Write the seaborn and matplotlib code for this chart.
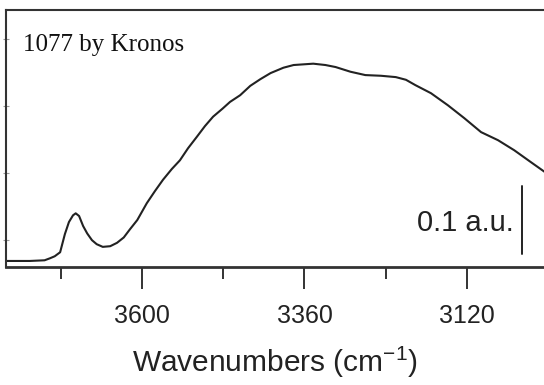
import matplotlib
matplotlib.use("Agg")
import matplotlib.pyplot as plt
import seaborn as sns
import pandas as pd

# ---- data ----
wavenumbers = [3800, 3766, 3744, 3736, 3729, 3721, 3714, 3708, 3702, 3698,
               3693, 3687, 3681, 3674, 3667, 3658, 3647, 3637, 3627, 3618,
               3607, 3593, 3581, 3569, 3556, 3544, 3532, 3519, 3507, 3495,
               3481, 3470, 3455, 3440, 3425, 3410, 3391, 3376, 3347, 3329,
               3314, 3292, 3270, 3247, 3225, 3210, 3196, 3173, 3148, 3124,
               3099, 3074, 3050, 3025, 3004]
absorbance = [-0.031, -0.031, -0.030, -0.027, -0.024, -0.018, 0.009, 0.027, 0.037, 0.040,
              0.036, 0.021, 0.010, 0.000, -0.006, -0.010, -0.009, -0.004, 0.004, 0.016,
              0.030, 0.055, 0.073, 0.090, 0.106, 0.119, 0.137, 0.154, 0.170, 0.184,
              0.196, 0.206, 0.216, 0.230, 0.240, 0.249, 0.257, 0.261, 0.263, 0.261,
              0.258, 0.251, 0.246, 0.245, 0.243, 0.239, 0.231, 0.219, 0.201, 0.182,
              0.161, 0.149, 0.134, 0.116, 0.101]
major_ticks = [3600, 3360, 3120]
minor_ticks = [3720, 3480, 3240]
y_ticks = [0.0, 0.1, 0.2, 0.3]
scale_bar_x = 3038
scale_bar_y = [-0.02, 0.08]
scale_bar_label = "0.1 a.u."
x_label = r"Wavenumbers (cm$^{-1}$)"
watermark = "1077 by Kronos"

df = pd.DataFrame({"wn": wavenumbers, "ab": absorbance})

sns.set_style("ticks")
plt.rcParams["font.family"] = ["Liberation Sans", "DejaVu Sans"]
plt.rcParams["mathtext.default"] = "regular"

fig = plt.figure(figsize=(5.44, 3.85), dpi=100)
ax = fig.add_axes([6 / 544, (385 - 267) / 385, 1 - 6 / 544, (267 - 10) / 385])

sns.lineplot(data=df, x="wn", y="ab", ax=ax, color="#222222", linewidth=1.5,
             solid_joinstyle="round", solid_capstyle="round")

ax.set_xlim(3801, 3006)
ax.set_ylim(-0.040, 0.343)

ax.set_xticks(major_ticks)
ax.set_xticks(minor_ticks, minor=True)
ax.set_yticks(y_ticks)
ax.set_yticklabels([])
ax.tick_params(axis="x", which="major", direction="out", length=15.5, width=1.4,
               labelsize=18, pad=11, color="#333333", labelcolor="#222222")
ax.tick_params(axis="x", which="minor", direction="out", length=8.5, width=1.4,
               color="#333333")
ax.tick_params(axis="y", which="major", direction="inout", length=4, width=0.8,
               color="#999999")

for side in ["left", "top", "bottom"]:
    ax.spines[side].set_visible(True)
    ax.spines[side].set_color("#333333")
ax.spines["left"].set_linewidth(1.5)
ax.spines["top"].set_linewidth(1.5)
ax.spines["bottom"].set_linewidth(2.0)
ax.spines["right"].set_visible(False)

ax.set_xlabel(x_label, fontsize=21.5, labelpad=12, color="#222222")
ax.set_ylabel("")

# scale bar
ax.plot([scale_bar_x, scale_bar_x], scale_bar_y, color="#222222", linewidth=1.4)
ax.text(scale_bar_x + 13, sum(scale_bar_y) / 2 - 0.004, scale_bar_label,
        ha="right", va="center", fontsize=21, color="#222222")

# watermark
fig.text(23 / 544, 1 - 45 / 385, watermark, ha="left", va="center",
         fontsize=18, family=["Liberation Serif", "DejaVu Serif"], color="#111111")

fig.savefig("out.png", dpi=100)
